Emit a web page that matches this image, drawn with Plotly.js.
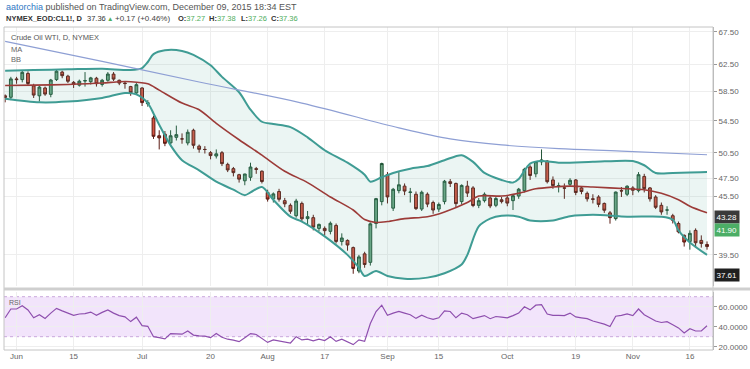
<!DOCTYPE html>
<html><head><meta charset="utf-8">
<script src="https://cdn.plot.ly/plotly-3.0.1.min.js"></script>
<style>html,body{margin:0;padding:0;background:#fff;}#chart{width:750px;height:369px;}</style>
</head><body><div id="chart"></div>
<script>
const dates = [
'2015-05-28','2015-05-29',
'2015-06-01','2015-06-02','2015-06-03','2015-06-04','2015-06-05',
'2015-06-08','2015-06-09','2015-06-10','2015-06-11','2015-06-12',
'2015-06-15','2015-06-16','2015-06-17','2015-06-18','2015-06-19',
'2015-06-22','2015-06-23','2015-06-24','2015-06-25','2015-06-26',
'2015-06-29','2015-06-30','2015-07-01','2015-07-02',
'2015-07-06','2015-07-07','2015-07-08','2015-07-09','2015-07-10',
'2015-07-13','2015-07-14','2015-07-15','2015-07-16','2015-07-17',
'2015-07-20','2015-07-21','2015-07-22','2015-07-23','2015-07-24',
'2015-07-27','2015-07-28','2015-07-29','2015-07-30','2015-07-31',
'2015-08-03','2015-08-04','2015-08-05','2015-08-06','2015-08-07',
'2015-08-10','2015-08-11','2015-08-12','2015-08-13','2015-08-14',
'2015-08-17','2015-08-18','2015-08-19','2015-08-20','2015-08-21',
'2015-08-24','2015-08-25','2015-08-26','2015-08-27','2015-08-28',
'2015-08-31','2015-09-01','2015-09-02','2015-09-03','2015-09-04',
'2015-09-08','2015-09-09','2015-09-10','2015-09-11',
'2015-09-14','2015-09-15','2015-09-16','2015-09-17','2015-09-18',
'2015-09-21','2015-09-22','2015-09-23','2015-09-24','2015-09-25',
'2015-09-28','2015-09-29','2015-09-30','2015-10-01','2015-10-02',
'2015-10-05','2015-10-06','2015-10-07','2015-10-08','2015-10-09',
'2015-10-12','2015-10-13','2015-10-14','2015-10-15','2015-10-16',
'2015-10-19','2015-10-20','2015-10-21','2015-10-22','2015-10-23',
'2015-10-26','2015-10-27','2015-10-28','2015-10-29','2015-10-30',
'2015-11-02','2015-11-03','2015-11-04','2015-11-05','2015-11-06',
'2015-11-09','2015-11-10','2015-11-11','2015-11-12','2015-11-13',
'2015-11-16','2015-11-17','2015-11-18','2015-11-19'];

const opens = [
57.9,57.7,60.3,60.2,61.1,59.3,57.9,59.0,58.1,60.2,
61.3,60.7,59.8,59.4,60.0,59.9,60.4,59.5,60.1,61.0,
60.1,59.7,59.2,58.3,59.0,56.8,54.9,52.6,52.8,51.7,
52.4,52.2,51.7,53.3,51.3,50.9,50.5,50.1,50.5,49.1,
48.6,47.9,47.2,47.6,48.6,48.3,45.9,45.2,46.0,45.0,
44.5,43.4,44.7,43.1,43.2,42.1,42.1,41.8,42.4,40.8,
40.9,40.2,38.0,39.6,38.8,42.6,44.9,47.9,44.2,46.1,
46.6,45.9,45.7,44.1,45.7,44.8,44.1,44.9,47.1,46.9,
44.9,46.6,46.4,44.5,45.0,45.3,44.5,45.1,45.3,45.0,
45.5,46.1,48.8,48.0,49.4,49.5,47.3,46.6,46.4,46.8,
47.3,46.4,45.8,45.2,45.4,44.7,43.7,43.1,46.1,45.7,
46.4,46.1,47.7,46.4,45.4,44.5,44.0,43.4,42.6,41.4,
40.8,41.9,40.9,40.5];
const highs = [
58.1,60.6,60.6,61.6,61.4,59.6,59.3,59.2,60.3,61.7,
61.5,60.9,60.0,60.2,61.3,60.6,60.6,60.3,61.3,61.3,
60.2,60.0,59.3,59.7,59.1,57.3,55.2,53.3,53.2,53.3,
53.9,52.9,53.4,53.5,51.5,51.3,50.7,50.9,50.7,49.3,
48.8,48.0,48.0,49.3,48.8,48.4,46.2,45.9,46.3,45.3,
44.7,45.2,44.9,43.9,43.5,42.6,42.3,42.8,42.6,41.6,
41.0,40.3,39.5,39.8,42.7,45.3,49.3,48.2,46.4,48.2,
46.9,46.4,46.0,46.1,45.9,45.0,44.8,47.3,47.4,47.0,
46.8,47.2,46.6,45.3,45.9,45.5,45.4,45.4,45.6,45.7,
46.4,48.7,49.0,49.5,50.9,49.6,47.7,47.0,46.9,47.5,
47.4,46.6,46.0,45.7,45.6,44.8,43.9,46.0,46.5,46.7,
46.6,48.2,48.0,46.5,45.6,44.8,44.4,43.6,42.8,41.5,
41.9,42.1,41.4,40.8];
const lows = [
57.0,57.3,59.6,59.8,59.4,57.6,57.1,57.9,57.7,60.0,
60.4,59.7,59.0,59.2,59.2,59.5,59.2,59.2,59.9,60.0,
59.4,58.9,57.9,58.0,56.5,56.4,52.2,50.9,51.3,51.3,
52.0,51.6,51.4,51.0,50.5,50.4,49.7,49.8,48.9,48.2,
47.7,47.0,46.7,47.2,48.0,46.9,44.9,44.8,44.9,44.3,
43.6,43.2,42.8,42.5,41.9,41.8,41.4,41.5,40.6,40.4,
39.9,37.75,37.8,38.3,38.5,42.1,44.5,44.7,43.9,45.8,
45.6,44.8,44.0,43.9,44.3,43.6,43.8,44.6,46.5,44.3,
44.6,45.4,44.3,44.2,44.8,44.2,44.3,44.7,44.4,44.0,
45.2,45.9,47.3,47.6,49.0,46.9,46.3,45.9,45.2,46.5,
45.6,45.7,44.9,44.7,44.3,43.7,42.58,42.9,45.4,45.5,
45.6,45.9,45.9,44.9,44.1,43.5,43.5,42.6,41.6,40.3,
40.0,40.2,40.2,40.0];
const closes = [
57.68,60.30,60.20,61.26,59.64,58.00,59.13,58.14,60.14,61.43,
60.77,59.96,59.52,59.97,60.05,60.45,59.61,60.10,61.01,60.27,
59.70,59.63,58.33,59.47,56.96,56.93,52.53,52.33,51.65,52.60,
52.74,52.20,53.04,51.41,50.91,50.89,50.15,50.36,49.19,48.45,
48.14,47.39,47.98,48.79,48.52,47.12,45.17,45.74,45.15,44.66,
43.87,44.96,43.08,43.30,42.23,42.50,41.87,42.62,40.80,41.14,
40.45,38.24,39.31,38.60,42.56,45.22,49.20,45.41,46.25,46.75,
46.05,45.94,44.15,45.92,44.63,44.00,44.59,47.15,46.90,44.68,
46.68,45.83,44.48,45.00,45.70,44.43,45.23,44.90,44.74,45.54,
46.26,48.53,47.81,49.43,49.63,47.10,46.66,46.64,46.38,47.26,
45.89,46.00,45.20,45.15,44.60,43.98,43.20,45.94,46.06,46.59,
46.14,47.90,46.32,45.20,44.29,43.80,44.00,42.93,41.75,40.74,
41.60,40.67,40.60,40.30];

const rsiValues = [
48.9,57.7,57.7,60.9,56.8,48.9,52.0,48.3,53.6,58.3,
55.8,53.6,51.4,52.7,53.0,54.6,51.4,54.3,56.8,53.6,
51.1,49.8,45.1,49.5,41.0,40.4,30.0,29.0,27.8,33.1,
33.1,32.5,35.7,31.6,30.9,30.6,29.0,33.1,29.4,27.5,
26.5,25.0,29.0,33.1,32.2,28.4,24.3,26.8,25.9,25.3,
23.7,30.0,26.8,27.5,25.9,27.5,26.2,30.0,25.3,27.5,
24.6,22.1,26.8,25.3,43.2,55.2,61.5,51.4,53.6,55.2,
53.6,52.0,48.3,51.4,48.9,47.3,48.9,55.8,55.2,48.9,
53.6,52.0,48.0,49.5,51.1,48.0,50.2,49.5,48.9,51.1,
53.6,59.9,56.8,61.5,62.1,52.7,51.4,51.4,51.1,53.6,
49.8,48.9,48.0,45.7,44.2,42.6,40.1,50.5,51.4,52.7,
51.1,57.7,52.0,48.9,45.7,44.2,45.1,42.0,38.8,33.8,
37.9,35.7,35.7,41.0];

// Bollinger Bands (20,2) and MA at sample dates
const bbUpperDates = ['2015-05-28','2015-06-04','2015-06-12','2015-06-22','2015-06-29','2015-07-01','2015-07-02','2015-07-06','2015-07-08','2015-07-13','2015-07-15','2015-07-20','2015-07-22','2015-07-27','2015-07-29','2015-07-31','2015-08-04','2015-08-07','2015-08-12','2015-08-17','2015-08-21','2015-08-26','2015-08-27','2015-08-31','2015-09-02','2015-09-08','2015-09-11','2015-09-16','2015-09-21','2015-09-23','2015-09-25','2015-09-30','2015-10-02','2015-10-05','2015-10-07','2015-10-09','2015-10-14','2015-10-22','2015-11-02','2015-11-04','2015-11-06','2015-11-11','2015-11-19'];
const bbUpper = [61.5,61.6,61.7,61.8,61.6,61.9,62.8,64.0,64.6,64.5,63.9,62.3,60.6,58.4,56.0,54.4,54.1,53.7,52.4,50.8,49.3,47.9,47.1,47.6,48.1,48.6,48.9,49.6,50.2,49.4,48.1,47.3,47.0,47.4,49.2,49.5,49.3,49.4,49.5,49.0,48.1,48.1,48.2];
const bbLowerDates = ['2015-05-28','2015-06-05','2015-06-12','2015-06-22','2015-06-26','2015-06-30','2015-07-02','2015-07-06','2015-07-07','2015-07-09','2015-07-13','2015-07-16','2015-07-21','2015-07-24','2015-07-28','2015-07-29','2015-07-31','2015-08-04','2015-08-07','2015-08-11','2015-08-17','2015-08-21','2015-08-25','2015-08-26','2015-08-28','2015-09-01','2015-09-04','2015-09-11','2015-09-16','2015-09-21','2015-09-22','2015-09-24','2015-09-28','2015-09-30','2015-10-05','2015-10-07','2015-10-13','2015-10-16','2015-10-22','2015-10-30','2015-11-09','2015-11-11','2015-11-12','2015-11-16','2015-11-19'];
const bbLower = [57.5,57.0,57.1,57.6,58.3,58.1,56.9,55.5,54.0,51.4,49.6,48.4,47.1,46.2,45.6,45.9,46.5,45.1,43.3,42.8,41.3,39.5,38.3,37.55,38.0,37.55,37.3,37.4,37.8,38.6,39.5,42.3,43.1,43.4,43.3,42.9,42.9,43.35,43.5,43.3,43.3,43.0,41.9,40.7,39.5];
const bbBasisDates = ['2015-05-28','2015-06-04','2015-06-12','2015-06-22','2015-06-25','2015-06-29','2015-07-02','2015-07-07','2015-07-13','2015-07-16','2015-07-21','2015-07-27','2015-07-31','2015-08-06','2015-08-12','2015-08-18','2015-08-24','2015-08-26','2015-08-28','2015-09-01','2015-09-04','2015-09-11','2015-09-16','2015-09-22','2015-09-24','2015-09-30','2015-10-05','2015-10-08','2015-10-13','2015-10-16','2015-10-22','2015-10-30','2015-11-04','2015-11-09','2015-11-12','2015-11-16','2015-11-19'];
const bbBasis = [59.35,59.4,59.5,59.7,59.9,59.9,59.6,58.7,56.9,56.0,54.2,52.1,50.2,48.3,47.0,45.4,44.0,43.0,42.7,42.8,43.1,43.3,43.8,44.8,45.5,45.5,45.8,46.3,46.5,46.6,46.5,46.3,46.2,45.8,45.1,44.4,43.7];
const maDates = ['2015-05-28','2015-06-22','2015-07-16','2015-08-11','2015-09-03','2015-09-17','2015-09-30','2015-10-14','2015-10-29','2015-11-19'];
const maValues = [66.0,62.9,59.85,56.9,53.6,52.2,51.45,51.0,50.7,50.25];

const tickDates = ['2015-06-01','2015-06-15','2015-07-01','2015-07-20','2015-08-03','2015-08-17','2015-09-01','2015-09-15','2015-10-01','2015-10-19','2015-11-02','2015-11-16'];
const tickLabels = ['Jun','15','Jul','20','Aug','17','Sep','15','Oct','19','Nov','16'];
const priceTicks = [67.5,62.5,58.5,54.5,50.5,47.5,45.5,39.5];
const hiddenGrid = [43.5,41.5,37.5];
const rsiTicks = [60,40,20];
const levelMain = 43.28;
const levelLow = 37.61;
const levelLowStart = '2015-08-17';
const priceTag = 41.90;
const boxStart = '2015-11-12', boxEnd = '2015-11-19', boxLow = 39.7, boxHigh = 41.6;

// header texts with their left pixel positions
const GREEN = '#4fae5c';
const headerParts = [
  {px:5,   text:'<b>NYMEX_EOD:CL1!, D</b>', color:'#333', size:7.5},
  {px:86,  text:'37.36', color:'#333', size:7.5},
  {px:106, text:'▲', color:GREEN, size:6.5},
  {px:114, text:'+0.17 (+0.46%)', color:'#444', size:8},
  {px:177, text:'<b>O:</b><span style="color:'+GREEN+'">37.27</span>', color:'#333', size:7.5},
  {px:208, text:'<b>H:</b><span style="color:'+GREEN+'">37.38</span>', color:'#333', size:7.5},
  {px:240, text:'<b>L:</b><span style="color:'+GREEN+'">37.26</span>', color:'#333', size:7.5},
  {px:270, text:'<b>C:</b><span style="color:'+GREEN+'">37.36</span>', color:'#333', size:7.5}
];

const L = Math.log10;
const idx = d => dates.indexOf(d);
const xRange = [-0.2, 124.05];

const traces = [
  {type:'scatter', mode:'lines', x:bbUpperDates, y:bbUpper, line:{color:'#3f9c94', width:2, shape:'spline', smoothing:0.8}, hoverinfo:'skip'},
  {type:'scatter', mode:'lines', x:bbLowerDates, y:bbLower, line:{color:'#3f9c94', width:2, shape:'spline', smoothing:0.8}, fill:'tonexty', fillcolor:'rgba(88,170,160,0.12)', hoverinfo:'skip'},
  {type:'scatter', mode:'lines', x:maDates, y:maValues, line:{color:'#8e9fd4', width:1.2, shape:'spline'}, hoverinfo:'skip'},
  {type:'scatter', mode:'lines', x:bbBasisDates, y:bbBasis, line:{color:'#9c3b38', width:1.6, shape:'spline', smoothing:0.8}, hoverinfo:'skip'},
  {type:'candlestick', x:dates, open:opens, high:highs, low:lows, close:closes,
   increasing:{line:{color:'#225437', width:1}, fillcolor:'#6ba583'},
   decreasing:{line:{color:'#5b1a13', width:1}, fillcolor:'#d75442'},
   whiskerwidth:0, hoverinfo:'skip'},
  {type:'scatter', mode:'lines', x:dates, y:rsiValues, xaxis:'x', yaxis:'y2', line:{color:'#8e4fae', width:1.2}, hoverinfo:'skip'}
];

const yp = py => (350 - py) / 323;  // paper y from pixel row (plot area 27..350)
const xp = px => (px - 4) / 709;    // paper x from pixel column (plot area 4..713)

const shapes = [
  {type:'rect', xref:'paper', yref:'y2', x0:0, x1:1, y0:30, y1:70, fillcolor:'#f2e4fb', line:{width:0}, layer:'below'},
  {type:'line', xref:'paper', yref:'y2', x0:0, x1:1, y0:70, y1:70, line:{color:'#c9a8dc', width:1, dash:'dot'}, layer:'below'},
  {type:'line', xref:'paper', yref:'y2', x0:0, x1:1, y0:30, y1:30, line:{color:'#c9a8dc', width:1, dash:'dot'}, layer:'below'},
  {type:'rect', xref:'paper', yref:'paper', x0:0, x1:1, y0:0, y1:1, line:{color:'#c4c4c4', width:1}},
  {type:'line', xref:'paper', yref:'paper', x0:0, x1:1.0522, y0:yp(289), y1:yp(289), line:{color:'#cfcfcf', width:3}},
  {type:'line', xref:'paper', yref:'y', x0:0, x1:1, y0:L(levelMain), y1:L(levelMain), line:{color:'#6a6a6a', width:2}},
  {type:'line', xref:'x', yref:'y', x0:idx(levelLowStart)-0.3, x1:xRange[1], y0:L(levelLow), y1:L(levelLow), line:{color:'#8a8a8a', width:1.5}},
  {type:'rect', xref:'x', yref:'y', x0:idx(boxStart)-0.2, x1:idx(boxEnd)+0.7, y0:L(boxLow), y1:L(boxHigh),
    fillcolor:'rgba(150,100,205,0.35)', line:{color:'rgba(130,85,185,0.85)', width:1}}
];
hiddenGrid.forEach(v => shapes.push({type:'line', xref:'paper', yref:'y', x0:0, x1:1, y0:L(v), y1:L(v), line:{color:'#eeeeee', width:1}, layer:'below'}));

const annotations = [
  {xref:'paper', yref:'paper', x:xp(4), y:yp(7), xanchor:'left', yanchor:'middle', showarrow:false,
    font:{size:9, color:'#555', family:'Liberation Sans, Arial, sans-serif'},
    text:'<span style="color:#2f78c4">aatorchia</span> published on TradingView.com, December 09, 2015 18:34 EST'},
  {xref:'paper', yref:'paper', x:xp(9), y:yp(37), xanchor:'left', yanchor:'middle', showarrow:false, font:{size:7.5, color:'#555'}, text:'Crude Oil WTI, D, NYMEX'},
  {xref:'paper', yref:'paper', x:xp(9), y:yp(49), xanchor:'left', yanchor:'middle', showarrow:false, font:{size:7.5, color:'#666'}, text:'MA'},
  {xref:'paper', yref:'paper', x:xp(9), y:yp(60), xanchor:'left', yanchor:'middle', showarrow:false, font:{size:7.5, color:'#666'}, text:'BB'},
  {xref:'paper', yref:'paper', x:xp(7), y:yp(302), xanchor:'left', yanchor:'middle', showarrow:false, font:{size:7, color:'#666'}, text:'RSI'},
  {xref:'paper', yref:'y', x:1, xanchor:'left', xshift:1, y:L(levelMain), yanchor:'middle', showarrow:false,
    text:levelMain.toFixed(2), bgcolor:'#3a3a3a', font:{size:8, color:'#fff'}, borderpad:1.5},
  {xref:'paper', yref:'y', x:1, xanchor:'left', xshift:1, y:L(priceTag), yanchor:'middle', showarrow:false,
    text:priceTag.toFixed(2), bgcolor:'#4cae66', font:{size:8, color:'#fff'}, borderpad:1.5},
  {xref:'paper', yref:'y', x:1, xanchor:'left', xshift:1, y:L(levelLow), yanchor:'middle', showarrow:false,
    text:levelLow.toFixed(2), bgcolor:'#1f1f1f', font:{size:8, color:'#fff'}, borderpad:1.5}
];
headerParts.forEach(p => annotations.push({xref:'paper', yref:'paper', x:xp(p.px), y:yp(19), xanchor:'left', yanchor:'middle',
  showarrow:false, borderpad:0, text:p.text, font:{size:p.size, color:p.color, family:'Liberation Sans, Arial, sans-serif'}}));

const layout = {
  width:750, height:369,
  margin:{l:4, r:37, t:27, b:19, pad:0},
  paper_bgcolor:'#ffffff', plot_bgcolor:'#ffffff',
  showlegend:false,
  font:{family:'Liberation Sans, Arial, sans-serif', size:8, color:'#666'},
  xaxis:{type:'category', categoryorder:'array', categoryarray:dates, range:xRange,
    tickmode:'array', tickvals:tickDates, ticktext:tickLabels, showgrid:true, gridcolor:'#eeeeee', gridwidth:1,
    ticks:'', tickfont:{size:8, color:'#666'}, rangeslider:{visible:false}, anchor:'y2',
    showline:false, zeroline:false, fixedrange:true},
  yaxis:{domain:[0.1981, 1], type:'log', range:[1.56412, 1.83451], side:'right',
    tickmode:'array', tickvals:priceTicks, tickformat:'.2f', ticks:'outside', ticklen:3, tickcolor:'#999',
    showline:true, linecolor:'#b5b5b5', showgrid:true, gridcolor:'#eeeeee', zeroline:false,
    tickfont:{size:8, color:'#666'}, fixedrange:true},
  yaxis2:{domain:[0, 0.1796], range:[16.7, 74.7], side:'right',
    tickmode:'array', tickvals:rsiTicks, tickformat:'.4f', ticks:'outside', ticklen:3, tickcolor:'#999',
    showline:true, linecolor:'#b5b5b5', showgrid:true, gridcolor:'#eeeeee', zeroline:false,
    tickfont:{size:8, color:'#666'}, fixedrange:true},
  shapes:shapes,
  annotations:annotations
};

Plotly.newPlot('chart', traces, layout, {displayModeBar:false, staticPlot:true});
</script>
</body></html>
